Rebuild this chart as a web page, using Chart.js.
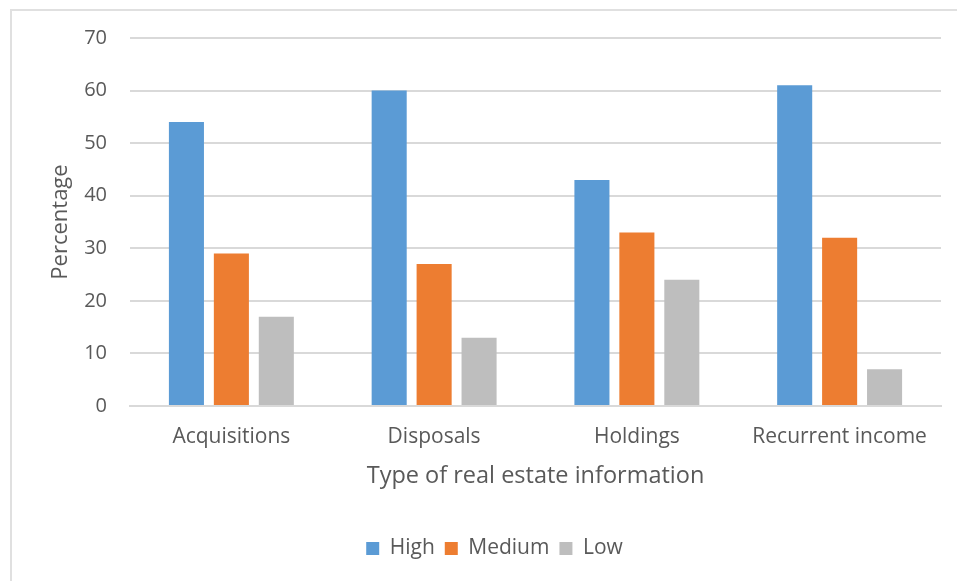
<!DOCTYPE html>
<html>
<head>
<meta charset="utf-8">
<script src="https://cdn.jsdelivr.net/npm/chart.js@4"></script>
<style>
  body { margin: 0; background: #fff; }
  #frame { position: absolute; left: 10px; top: 9px; width: 960px; height: 600px; border: 2px solid #e0e0e0; }
  #wrap { position: absolute; left: 0; top: 0; width: 957px; height: 581px; }
</style>
</head>
<body>
<div id="frame"></div>
<div id="wrap"><canvas id="chart"></canvas></div>
<script>
const categories = ['Acquisitions', 'Disposals', 'Holdings', 'Recurrent income'];
const high = [54, 60, 43, 61];
const medium = [29, 27, 33, 32];
const low = [17, 13, 24, 7];
const yTicks = [0, 10, 20, 30, 40, 50, 60, 70];

const textColor = '#595959';
Chart.defaults.font.family = '"Open Sans", sans-serif';
Chart.defaults.color = textColor;

const ctx = document.getElementById('chart').getContext('2d');
new Chart(ctx, {
    type: 'bar',
    data: {
        labels: categories,
        datasets: [
            { label: 'High', data: high, backgroundColor: '#5B9BD5' },
            { label: 'Medium', data: medium, backgroundColor: '#ED7D31' },
            { label: 'Low', data: low, backgroundColor: '#BEBEBE' }
        ]
    },
    options: {
        responsive: true,
        maintainAspectRatio: false,
        animation: false,
        layout: { padding: { left: 48, right: 16, top: 38, bottom: 12 } },
        datasets: {
            bar: { categoryPercentage: 0.665, barPercentage: 0.78 }
        },
        plugins: {
            tooltip: { enabled: false },
            legend: {
                position: 'bottom',
                labels: {
                    boxWidth: 13,
                    boxHeight: 13,
                    padding: 10,
                    font: { size: 21 },
                    color: textColor
                }
            }
        },
        scales: {
            x: {
                afterFit: scale => { scale.height = 122; },
                grid: { display: false, drawTicks: false },
                border: { color: '#d9d9d9', width: 2 },
                ticks: { font: { size: 21 }, padding: 18, color: textColor, maxRotation: 0 },
                title: {
                    display: true,
                    text: 'Type of real estate information',
                    font: { size: 23.5 },
                    color: textColor,
                    padding: { top: 10, bottom: 38 }
                }
            },
            y: {
                min: 0,
                max: 70,
                afterBuildTicks: scale => { scale.ticks = yTicks.map(v => ({ value: v })); },
                afterFit: scale => { scale.width = 82; },
                grid: { color: '#d9d9d9', lineWidth: 2, drawTicks: false },
                border: { display: false },
                ticks: { font: { size: 20 }, padding: 23, color: textColor },
                title: {
                    display: true,
                    text: 'Percentage',
                    font: { size: 22 },
                    color: textColor,
                    padding: { top: 0, bottom: 0 }
                }
            }
        }
    }
});
</script>
</body>
</html>
